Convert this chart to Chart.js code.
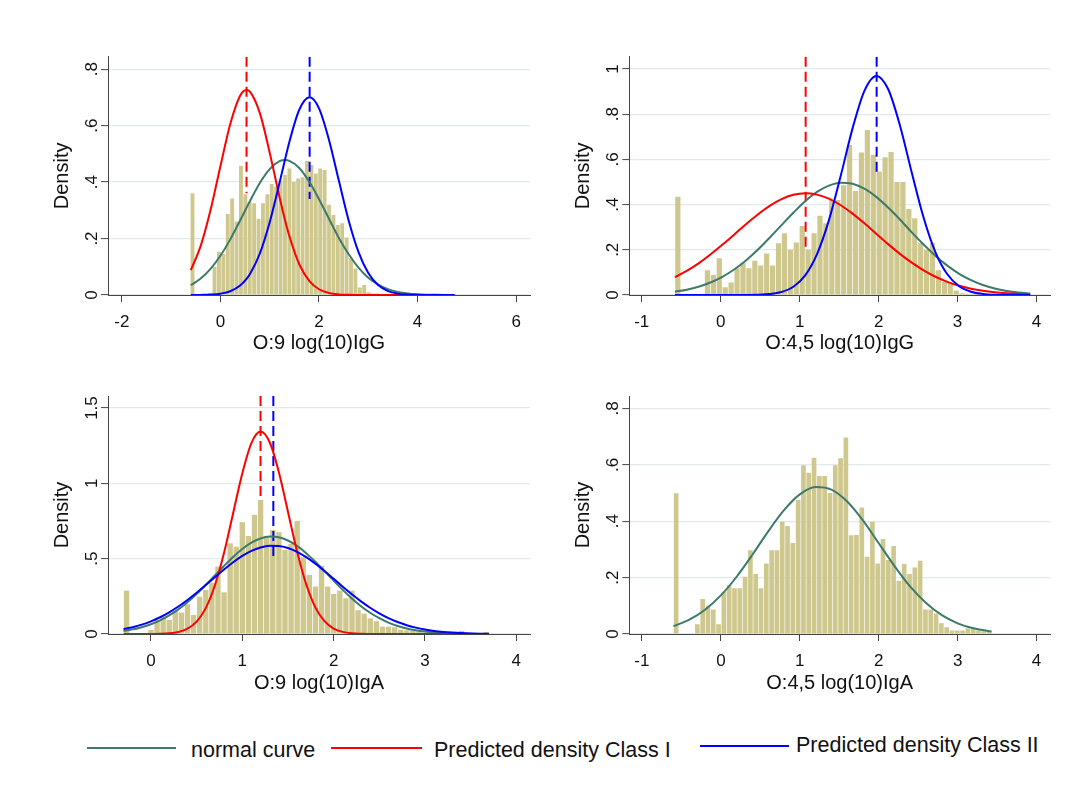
<!DOCTYPE html>
<html>
<head>
<meta charset="utf-8">
<title>Density of log(10) IgG and IgA</title>
<script src="https://cdn.jsdelivr.net/npm/chart.js@4.4.1/dist/chart.umd.min.js"></script>
<style>
  html, body { margin: 0; padding: 0; background: #ffffff; }
  #page { position: relative; width: 1074px; height: 800px; overflow: hidden;
          font-family: 'Liberation Sans', Arial, Helvetica, sans-serif; color: #111; }
  #page canvas { position: absolute; }
  .key-line { position: absolute; height: 0; }
  .key-text { position: absolute; font-size: 21.5px; line-height: 26px; white-space: nowrap; color: #111; }
</style>
</head>
<body>
<div id="page">
  <canvas id="pIgG9"></canvas>
  <canvas id="pIgG45"></canvas>
  <canvas id="pIgA9"></canvas>
  <canvas id="pIgA45"></canvas>

  <div class="key-line" style="left:87px;top:747px;width:89px;border-top:2px solid #3d7a6c"></div>
  <div class="key-text" style="left:191px;top:737px">normal curve</div>
  <div class="key-line" style="left:331px;top:747px;width:91px;border-top:2px solid #ff0000"></div>
  <div class="key-text" style="left:434px;top:737px">Predicted density Class I</div>
  <div class="key-line" style="left:700px;top:745px;width:89px;border-top:2px solid #0000ff"></div>
  <div class="key-text" style="left:796px;top:732px">Predicted density Class II</div>
</div>

<script>
// ---------------- data ----------------
// Histograms: 60 bins each, defined by start and width; values are densities.
const iggO9BinStart = -0.61, iggO9BinWidth = 0.0893;
const iggO9Hist = [
  0.36, 0, 0, 0, 0.005, 0.10, 0.153, 0.145, 0.287, 0.342,
  0.26, 0.458, 0.357, 0.33, 0.325, 0.27, 0.325, 0.357, 0.393, 0.383,
  0.405, 0.425, 0.448, 0.40, 0.413, 0.417, 0.475, 0.46, 0.43, 0.448,
  0.443, 0.32, 0.283, 0.248, 0.254, 0.204, 0.13, 0.094, 0.027, 0.035,
  0.01, 0.005, 0.005, 0, 0.004, 0.004, 0, 0.004, 0, 0.004,
  0, 0, 0.004, 0, 0, 0.004, 0, 0, 0, 0.004
];
const iggO45BinStart = -0.58, iggO45BinWidth = 0.075;
const iggO45Hist = [
  0.435, 0, 0, 0, 0, 0.11, 0.088, 0.162, 0.034, 0.055,
  0.118, 0.14, 0.118, 0.152, 0.13, 0.184, 0.13, 0.229, 0.273, 0.2,
  0.232, 0.305, 0.2, 0.273, 0.351, 0.317, 0.42, 0.42, 0.485, 0.664,
  0.46, 0.63, 0.73, 0.62, 0.546, 0.609, 0.633, 0.50, 0.50, 0.38,
  0.34, 0.23, 0.2, 0.23, 0.11, 0.057, 0.054, 0.02, 0.008, 0.005,
  0.005, 0, 0.005, 0.004, 0, 0.004, 0, 0, 0, 0.004
];
const igaO9BinStart = -0.3, igaO9BinWidth = 0.0667;
const igaO9Hist = [
  0.288, 0, 0, 0, 0.027, 0.093, 0.115, 0.093, 0.155, 0.142,
  0.197, 0.126, 0.248, 0.292, 0.341, 0.447, 0.277, 0.602, 0.58, 0.742,
  0.651, 0.791, 0.89, 0.651, 0.691, 0.676, 0.558, 0.598, 0.751, 0.51,
  0.392, 0.315, 0.452, 0.315, 0.266, 0.288, 0.237, 0.288, 0.158, 0.135,
  0.104, 0.085, 0.049, 0.049, 0.044, 0.029, 0.025, 0.022, 0.018, 0.01,
  0.009, 0.008, 0.004, 0.013, 0.004, 0.02, 0.004, 0, 0.004, 0.013
];
const igaO45BinStart = -0.6, igaO45BinWidth = 0.0672;
const igaO45Hist = [
  0.499, 0, 0, 0, 0.035, 0.124, 0.10, 0.087, 0.035, 0.15,
  0.174, 0.162, 0.162, 0.203, 0.297, 0.213, 0.162, 0.25, 0.297, 0.297,
  0.398, 0.383, 0.323, 0.475, 0.598, 0.572, 0.625, 0.56, 0.56, 0.5,
  0.598, 0.623, 0.697, 0.35, 0.351, 0.449, 0.274, 0.398, 0.25, 0.337,
  0.262, 0.312, 0.189, 0.248, 0.213, 0.236, 0.26, 0.087, 0.087, 0.073,
  0.038, 0.024, 0.012, 0.012, 0.012, 0.02, 0.02, 0.012, 0.01, 0.008
];

// Density curves, sampled along x
const iggO9CurveX = [-0.6, -0.4, -0.2, 0, 0.2, 0.4, 0.53, 0.6, 0.8, 1.0, 1.2, 1.31, 1.4, 1.6, 1.81,
  2.0, 2.2, 2.4, 2.6, 2.8, 3.0, 3.2, 3.4, 3.6, 3.8, 4.0, 4.2, 4.4, 4.6, 4.75];
const iggO9Normal = [0.0348, 0.0584, 0.0928, 0.139, 0.197, 0.264, 0.309, 0.333, 0.397, 0.446, 0.474, 0.478, 0.475, 0.450, 0.399,
  0.339, 0.271, 0.203, 0.145, 0.0969, 0.0613, 0.0367, 0.0207, 0.0110, 0.0055, 0.0026, 0.0012, 0.0005, 0.0002, 0.0001];
const iggO9ClassI = [0.0879, 0.174, 0.301, 0.456, 0.606, 0.706, 0.726, 0.720, 0.644, 0.504, 0.346, 0.266, 0.208, 0.109, 0.0484,
  0.0204, 0.0072, 0.0022, 0.0006, 0.0002, 0, 0, 0, 0, 0, 0, 0, 0, 0, 0];
const iggO9ClassII = [0.0001, 0.0004, 0.0014, 0.0046, 0.0132, 0.0334, 0.0571, 0.0746, 0.147, 0.258, 0.398, 0.479, 0.543, 0.656, 0.700,
  0.661, 0.551, 0.407, 0.265, 0.153, 0.078, 0.0351, 0.014, 0.0049, 0.0015, 0.0004, 0.0001, 0, 0, 0];

const iggO45CurveX = [-0.58, -0.43, -0.28, -0.13, 0.02, 0.17, 0.32, 0.47, 0.62, 0.77, 0.92, 1.07, 1.22, 1.37, 1.52, 1.67,
  1.82, 1.97, 2.12, 2.27, 2.42, 2.57, 2.72, 2.87, 3.02, 3.17, 3.32, 3.47, 3.62, 3.77, 3.92];
const iggO45Normal = [0.0146, 0.0236, 0.0367, 0.0553, 0.0804, 0.113, 0.153, 0.200, 0.253, 0.309, 0.364, 0.415, 0.456, 0.484, 0.497, 0.492,
  0.470, 0.434, 0.387, 0.334, 0.277, 0.223, 0.173, 0.130, 0.0937, 0.0655, 0.0441, 0.0288, 0.0181, 0.0110, 0.0064];
const iggO45ClassI = [0.0788, 0.1065, 0.140, 0.179, 0.222, 0.267, 0.313, 0.356, 0.394, 0.424, 0.443, 0.450, 0.444, 0.426, 0.397, 0.360,
  0.317, 0.271, 0.225, 0.182, 0.143, 0.109, 0.0808, 0.0582, 0.0408, 0.0277, 0.0183, 0.0118, 0.0074, 0.0045, 0.0026];
const iggO45ClassII = [0, 0, 0, 0, 0, 0.0001, 0.0003, 0.0012, 0.0043, 0.0134, 0.0365, 0.0868, 0.181, 0.330, 0.527, 0.737,
  0.903, 0.969, 0.911, 0.750, 0.541, 0.342, 0.189, 0.0916, 0.0388, 0.0144, 0.0047, 0.0013, 0.0003, 0.0001, 0];

const igaO9CurveX = [-0.3, -0.2, -0.1, 0, 0.1, 0.2, 0.3, 0.4, 0.5, 0.6, 0.7, 0.8, 0.9, 1.0, 1.1, 1.2, 1.3, 1.4, 1.5, 1.6, 1.7,
  1.8, 1.9, 2.0, 2.1, 2.2, 2.3, 2.4, 2.5, 2.6, 2.7, 2.8, 2.9, 3.0, 3.1, 3.2, 3.3, 3.4, 3.5, 3.6, 3.7];
const igaO9Normal = [0.0203, 0.0307, 0.0453, 0.0650, 0.0907, 0.1235, 0.1637, 0.2114, 0.2658, 0.3256, 0.3887, 0.4517, 0.5115, 0.5642,
  0.6061, 0.6342, 0.6465, 0.6420, 0.6209, 0.5850, 0.5368, 0.4799, 0.4178, 0.3544, 0.2928, 0.2356, 0.1847, 0.1410, 0.1049,
  0.0760, 0.0536, 0.0369, 0.0247, 0.0161, 0.0102, 0.0063, 0.0038, 0.0022, 0.0013, 0.0007, 0.0004];
const igaO9ClassI = [0, 0, 0, 0.0004, 0.0014, 0.0045, 0.0134, 0.0351, 0.0823, 0.172, 0.322, 0.538, 0.802, 1.066,
  1.267, 1.344, 1.273, 1.076, 0.812, 0.548, 0.330, 0.177, 0.0849, 0.0364, 0.0139, 0.0047, 0.0014, 0.0004, 0.0001,
  0, 0, 0, 0, 0, 0, 0, 0, 0, 0, 0, 0];
const igaO9ClassII = [0.0320, 0.0452, 0.0624, 0.0842, 0.1113, 0.1440, 0.1823, 0.2258, 0.2737, 0.3247, 0.3770, 0.4283, 0.4761, 0.5180,
  0.5516, 0.5747, 0.5860, 0.5847, 0.5710, 0.5456, 0.5103, 0.4670, 0.4182, 0.3665, 0.3143, 0.2639, 0.2167, 0.1742, 0.1370,
  0.1055, 0.0794, 0.0586, 0.0423, 0.0298, 0.0206, 0.0139, 0.0092, 0.0060, 0.0038, 0.0023, 0.0014];

const igaO45CurveX = [-0.6, -0.4, -0.2, 0, 0.2, 0.4, 0.6, 0.8, 1.0, 1.2, 1.4, 1.6, 1.8, 2.0, 2.2, 2.4, 2.6, 2.8, 3.0, 3.2, 3.4, 3.43];
const igaO45Normal = [0.0278, 0.0507, 0.0862, 0.137, 0.203, 0.281, 0.364, 0.439, 0.495, 0.521, 0.512, 0.470, 0.403, 0.322,
  0.241, 0.168, 0.110, 0.0667, 0.0379, 0.0201, 0.0100, 0.0089];

// Class means (dashed markers) and the density where each marker stops
const iggO9Means = [0.53, 1.81], iggO9MarkerFloor = [0.36, 0.34];
const iggO45Means = [1.076, 1.975], iggO45MarkerFloor = [0.2, 0.545];
const igaO9Means = [1.2, 1.34], igaO9MarkerFloor = [0.89, 0.49];

// Axis ticks and labels
const xTicksWide = [-2, 0, 2, 4, 6], xLabelsWide = ['-2', '0', '2', '4', '6'];
const xTicksMid = [-1, 0, 1, 2, 3, 4], xLabelsMid = ['-1', '0', '1', '2', '3', '4'];
const xTicksIgA = [0, 1, 2, 3, 4], xLabelsIgA = ['0', '1', '2', '3', '4'];
const yTicks08 = [0, 0.2, 0.4, 0.6, 0.8], yLabels08 = ['0', '.2', '.4', '.6', '.8'];
const yTicks10 = [0, 0.2, 0.4, 0.6, 0.8, 1], yLabels10 = ['0', '.2', '.4', '.6', '.8', '1'];
const yTicks15 = [0, 0.5, 1, 1.5], yLabels15 = ['0', '.5', '1', '1.5'];

// ---------------- styling ----------------
const FONT = "'Liberation Sans', Arial, Helvetica, sans-serif";
Chart.defaults.font.family = FONT;
Chart.defaults.color = '#111';
const TEAL = '#3d7a6c', RED = '#ff0000', BLUE = '#0000ff';
const BAR_FILL = 'rgb(207,200,142)';
const AXIS = '#444444', GRID = '#e0e9ec';
const TICK_SIZE = 17, TITLE_SIZE = 20;

function labelWidth(labels) {
  const ctx = document.createElement('canvas').getContext('2d');
  ctx.font = TICK_SIZE + 'px ' + FONT;
  return Math.max(...labels.map(l => ctx.measureText(l).width));
}

function pairs(xs, ys) { return xs.map((x, i) => ({ x: x, y: ys[i] })); }

function histPoints(start, width, values) {
  return values.map((v, i) => ({ x: start + (i + 0.5) * width, y: v }));
}

function drawPanel(p) {
  const cv = document.getElementById(p.id);
  cv.width = p.box[2]; cv.height = p.box[3];
  cv.style.left = p.box[0] + 'px'; cv.style.top = p.box[1] + 'px';
  cv.style.width = p.box[2] + 'px'; cv.style.height = p.box[3] + 'px';

  const datasets = [];
  p.curves.forEach(c => datasets.push({
    type: 'line', data: pairs(p.curveX, c.y), borderColor: c.color, borderWidth: 2,
    pointRadius: 0, fill: false, cubicInterpolationMode: 'monotone', order: c.order
  }));
  p.markers.forEach(m => datasets.push({
    type: 'line', data: [{ x: m.x, y: p.yMax }, { x: m.x, y: m.floor }], borderColor: m.color,
    borderWidth: 2, borderDash: [10, 5], pointRadius: 0, fill: false, order: 2
  }));
  datasets.push({
    type: 'bar', data: histPoints(p.binStart, p.binWidth, p.hist), backgroundColor: BAR_FILL,
    borderWidth: 0, barPercentage: 0.88, categoryPercentage: 1, order: 3
  });

  const yPad = 15.5 - 7 - labelWidth(p.yLabels) / 2;

  new Chart(cv, {
    type: 'bar',
    data: { datasets: datasets },
    options: {
      responsive: false, animation: false, events: [],
      layout: { padding: { left: 0, top: p.padTop, right: p.padRight, bottom: 0 } },
      plugins: { legend: { display: false }, tooltip: { enabled: false } },
      scales: {
        x: {
          type: 'linear', min: p.xMin, max: p.xMax, offset: false,
          afterBuildTicks: s => { s.ticks = p.xTicks.map(v => ({ value: v })); },
          afterFit: s => { s.height = p.xAxisH; },
          ticks: { autoSkip: false, minRotation: 0, maxRotation: 0, padding: 10.5,
                   font: { size: TICK_SIZE }, color: '#111', callback: (v, i) => p.xLabels[i] },
          grid: { offset: false, drawOnChartArea: false, drawTicks: true, tickLength: 7, tickColor: AXIS, tickWidth: 1 },
          border: { display: true, color: AXIS, width: 1 },
          title: { display: true, text: p.xTitle, color: '#111', font: { size: TITLE_SIZE },
                   padding: { top: 0, bottom: 15 } }
        },
        y: {
          type: 'linear', min: 0, max: p.yMax,
          afterBuildTicks: s => { s.ticks = p.yTicks.map(v => ({ value: v })); },
          afterFit: s => { s.width = p.yAxisW; },
          ticks: { minRotation: 90, maxRotation: 90, crossAlign: 'center', padding: yPad,
                   font: { size: TICK_SIZE }, color: '#111', callback: (v, i) => p.yLabels[i] },
          grid: { color: GRID, lineWidth: 1.2, drawTicks: true, tickLength: 7, tickColor: AXIS, tickWidth: 1 },
          border: { display: true, color: AXIS, width: 1 },
          title: { display: true, text: 'Density', color: '#111', font: { size: TITLE_SIZE },
                   padding: { top: p.yTitleOffset - TITLE_SIZE * 0.6, bottom: 0 } }
        }
      }
    }
  });
}

// ---------------- panels ----------------
drawPanel({
  id: 'pIgG9', box: [0, 0, 537, 370], padTop: 56.7, padRight: 7, yAxisW: 108, xAxisH: 75, yTitleOffset: 62,
  xMin: -2.28, xMax: 6.28, yMax: 0.844, xTicks: xTicksWide, xLabels: xLabelsWide, yTicks: yTicks08, yLabels: yLabels08,
  xTitle: 'O:9 log(10)IgG', binStart: iggO9BinStart, binWidth: iggO9BinWidth, hist: iggO9Hist, curveX: iggO9CurveX,
  curves: [{ y: iggO9Normal, color: TEAL, order: 1.2 }, { y: iggO9ClassI, color: RED, order: 1.1 }, { y: iggO9ClassII, color: BLUE, order: 1 }],
  markers: [{ x: iggO9Means[0], floor: iggO9MarkerFloor[0], color: RED }, { x: iggO9Means[1], floor: iggO9MarkerFloor[1], color: BLUE }]
});
drawPanel({
  id: 'pIgG45', box: [537, 0, 537, 370], padTop: 56.7, padRight: 24, yAxisW: 92.3, xAxisH: 75, yTitleOffset: 46,
  xMin: -1.157, xMax: 4.17, yMax: 1.054, xTicks: xTicksMid, xLabels: xLabelsMid, yTicks: yTicks10, yLabels: yLabels10,
  xTitle: 'O:4,5 log(10)IgG', binStart: iggO45BinStart, binWidth: iggO45BinWidth, hist: iggO45Hist, curveX: iggO45CurveX,
  curves: [{ y: iggO45Normal, color: TEAL, order: 1.2 }, { y: iggO45ClassI, color: RED, order: 1.1 }, { y: iggO45ClassII, color: BLUE, order: 1 }],
  markers: [{ x: iggO45Means[0], floor: iggO45MarkerFloor[0], color: RED }, { x: iggO45Means[1], floor: iggO45MarkerFloor[1], color: BLUE }]
});
drawPanel({
  id: 'pIgA9', box: [0, 340, 537, 370], padTop: 56, padRight: 7, yAxisW: 108, xAxisH: 76, yTitleOffset: 62,
  xMin: -0.47, xMax: 4.15, yMax: 1.58, xTicks: xTicksIgA, xLabels: xLabelsIgA, yTicks: yTicks15, yLabels: yLabels15,
  xTitle: 'O:9 log(10)IgA', binStart: igaO9BinStart, binWidth: igaO9BinWidth, hist: igaO9Hist, curveX: igaO9CurveX,
  curves: [{ y: igaO9Normal, color: TEAL, order: 1.2 }, { y: igaO9ClassI, color: RED, order: 1.1 }, { y: igaO9ClassII, color: BLUE, order: 1 }],
  markers: [{ x: igaO9Means[0], floor: igaO9MarkerFloor[0], color: RED }, { x: igaO9Means[1], floor: igaO9MarkerFloor[1], color: BLUE }]
});
drawPanel({
  id: 'pIgA45', box: [537, 340, 537, 370], padTop: 56, padRight: 24, yAxisW: 92.3, xAxisH: 76, yTitleOffset: 46,
  xMin: -1.16, xMax: 4.17, yMax: 0.844, xTicks: xTicksMid, xLabels: xLabelsMid, yTicks: yTicks08, yLabels: yLabels08,
  xTitle: 'O:4,5 log(10)IgA', binStart: igaO45BinStart, binWidth: igaO45BinWidth, hist: igaO45Hist, curveX: igaO45CurveX,
  curves: [{ y: igaO45Normal, color: TEAL, order: 1.2 }],
  markers: []
});
</script>
</body>
</html>
